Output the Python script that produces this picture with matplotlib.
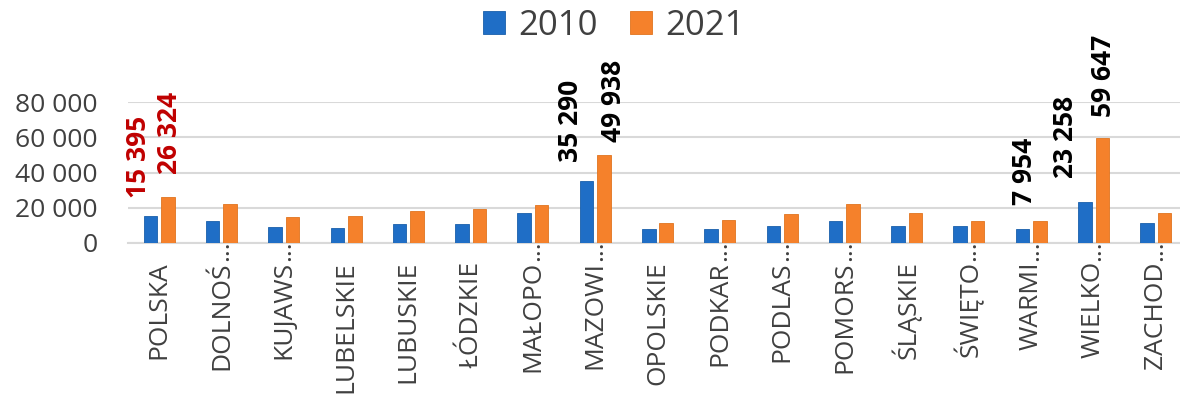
import numpy as np
import matplotlib.pyplot as plt
import matplotlib.transforms as mtransforms

plt.rcParams['font.family'] = ['Open Sans', 'DejaVu Sans']

# Dane
regions = ["POLSKA", "DOLNOŚ…", "KUJAWS…", "LUBELSKIE", "LUBUSKIE", "ŁÓDZKIE",
           "MAŁOPO…", "MAZOWI…", "OPOLSKIE", "PODKAR…", "PODLAS…", "POMORS…",
           "ŚLĄSKIE", "ŚWIĘTO…", "WARMI…", "WIELKO…", "ZACHOD…"]
v2010 = [15395, 12600, 9200, 8500, 10700, 10700, 16900, 35290, 7900, 8200,
         9400, 12400, 9400, 9800, 7954, 23258, 11100]
v2021 = [26324, 22200, 14700, 15600, 18200, 19500, 21500, 49938, 11600, 12800,
         16600, 22200, 17300, 12400, 12400, 59647, 17300]

# etykiety danych: (indeks, seria, przesuniecie x w px, odstep nad slupkiem w px)
labeled = [(0, 0, -12, 18), (0, 1, 2, 23), (7, 0, -16, 19), (7, 1, 10, 13),
           (14, 0, 2, 24), (15, 0, -19, 24), (15, 1, 1, 21)]

blue = '#1f6ec6'
orange = '#f5812b'

fig = plt.figure(figsize=(11.8, 3.98), dpi=100)
ax = fig.add_axes([128/1180, (398-243)/398, 1059/1180, (243-102)/398])

x = np.arange(len(regions))
w = 0.217
off = 0.14
b1 = ax.bar(x - off, v2010, w, color=blue, edgecolor='#1a5fab', linewidth=0.6, label='2010', zorder=3)
b2 = ax.bar(x + off, v2021, w, color=orange, edgecolor='#e0741f', linewidth=0.6, label='2021', zorder=3)

series = [v2010, v2021]
for i, s, dx, dy in labeled:
    val = series[s][i]
    xpos = x[i] - off if s == 0 else x[i] + off
    col = '#c00000' if i == 0 else 'black'
    ax.annotate(f"{val:,}".replace(",", " "), (xpos, val), xytext=(dx, dy),
                textcoords='offset pixels', rotation=90, ha='center', va='bottom',
                fontsize=19, fontweight='bold', color=col, annotation_clip=False)

ax.set_xlim(-0.5, len(regions) - 0.5)
ax.set_ylim(0, 80000)
ax.set_yticks([0, 20000, 40000, 60000, 80000])
ax.set_yticklabels(["0", "20 000", "40 000", "60 000", "80 000"])
ax.set_xticks(x)
ax.set_xticklabels([r.rstrip("…") for r in regions], rotation=90)
ax.tick_params(axis='y', length=0, labelsize=19, colors='#404040', pad=22)
ax.tick_params(axis='x', length=0, labelsize=19, colors='#404040', pad=13)

# wielokropki nad skroconymi etykietami
trans = mtransforms.blended_transform_factory(ax.transData, ax.transAxes)
for i, r in enumerate(regions):
    if r.endswith("…"):
        ax.text(x[i], -18/141, "...", transform=trans, rotation=90, ha='center',
                va='bottom', fontsize=19, color='#404040', clip_on=False)

ax.grid(axis='y', color='#d9d9d9', linewidth=1.5, zorder=0)
for sp in ['top', 'right', 'left']:
    ax.spines[sp].set_visible(False)
ax.spines['bottom'].set_color('#d9d9d9')
ax.spines['bottom'].set_linewidth(1.5)

fig.legend(handles=[b1, b2], loc='center', bbox_to_anchor=(614/1180, 1 - 26/398),
           ncol=2, frameon=False, fontsize=25, handlelength=0.63, handleheight=0.63,
           handletextpad=0.4, columnspacing=0.92, labelcolor='#404040')

fig.savefig('out.png', dpi=100)
